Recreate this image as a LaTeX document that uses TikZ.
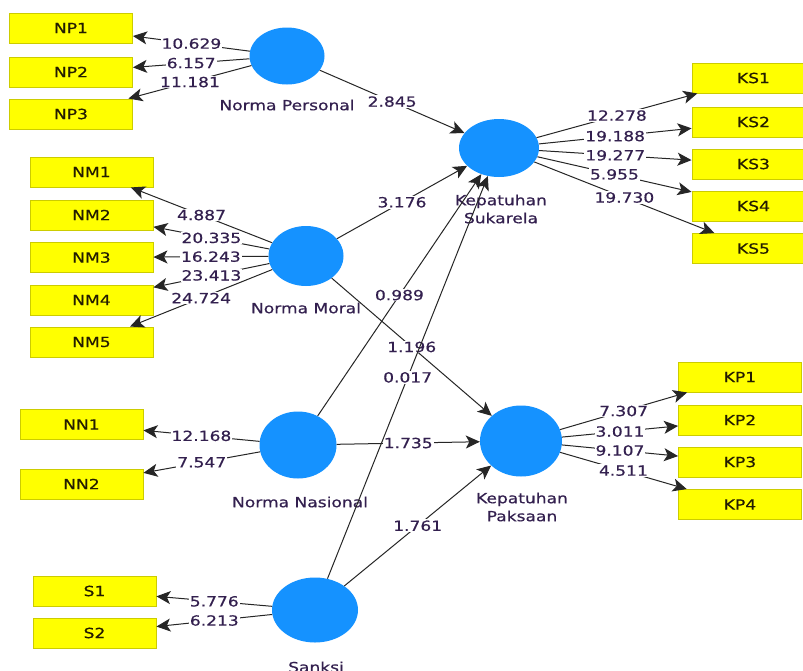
\documentclass[tikz,border=0pt]{standalone}
\usepackage{fontspec}
\setmainfont{DejaVu Sans}[FakeStretch=1.22,FakeBold=0.5]
\usetikzlibrary{shapes.geometric,arrows.meta}
\definecolor{lvblue}{HTML}{1592FF}
\definecolor{boxy}{HTML}{FFFF00}
\definecolor{boxline}{HTML}{CCCC00}
\definecolor{txtp}{HTML}{33204F}
\definecolor{boxtxt}{HTML}{231C00}
\definecolor{edgec}{HTML}{262626}
\begin{document}
\begin{tikzpicture}[x=1pt,y=-1pt,
  lv/.style={ellipse, fill=lvblue, inner sep=0pt},
  ind/.style={rectangle, fill=boxy, draw=boxline, line width=0.9pt, minimum width=123pt, minimum height=30pt, inner sep=0pt, font=\fontsize{14}{16}\selectfont, text=boxtxt},
  lvname/.style={font=\fontsize{14}{18}\selectfont, text=txtp, align=center, inner sep=0pt},
  val/.style={fill=white, inner sep=1pt, font=\fontsize{14}{16}\selectfont, text=txtp},
  arr/.style={draw=edgec, line width=1pt, -{Stealth[length=14pt,width=13pt,inset=3.5pt]}}
]
\clip (0,0) rectangle (803,670);
\fill[white] (0,0) rectangle (803,670);

% latent variables
\node[lv, minimum width=75pt, minimum height=57pt] (NP) at (287,56) {};
\node[lv, minimum width=75pt, minimum height=60pt] (NM) at (306,256) {};
\node[lv, minimum width=80pt, minimum height=58pt] (KS) at (499,148) {};
\node[lv, minimum width=82pt, minimum height=71pt] (KP) at (521,441) {};
\node[lv, minimum width=77pt, minimum height=67pt] (NN) at (298,445) {};
\node[lv, minimum width=86pt, minimum height=65pt] (S) at (315,610) {};

% latent names
\node[lvname] (NPn) at (287,105) {Norma Personal};
\node[lvname] (NMn) at (306,308) {Norma Moral};
\node[lvname] (KSn) at (501,209) {Kepatuhan\\Sukarela};
\node[lvname] (KPn) at (522,507) {Kepatuhan\\Paksaan};
\node[lvname] (NNn) at (300,502) {Norma Nasional};
\node[lvname] (Sn) at (316,667) {Sanksi};

% indicators
\node[ind] (NP1) at (71,28) {NP1};
\node[ind] (NP2) at (71,72) {NP2};
\node[ind] (NP3) at (71,114) {NP3};

\node[ind] (NM1) at (91.5,172) {NM1};
\node[ind] (NM2) at (91.5,215) {NM2};
\node[ind] (NM3) at (91.5,257.5) {NM3};
\node[ind] (NM4) at (91.5,300) {NM4};
\node[ind] (NM5) at (91.5,342) {NM5};

\node[ind] (KS1) at (753.5,78) {KS1};
\node[ind] (KS2) at (753.5,122) {KS2};
\node[ind] (KS3) at (753.5,164) {KS3};
\node[ind] (KS4) at (753.5,206) {KS4};
\node[ind] (KS5) at (753.5,248.5) {KS5};

\node[ind] (KP1) at (740,377) {KP1};
\node[ind] (KP2) at (740,420) {KP2};
\node[ind] (KP3) at (740,462) {KP3};
\node[ind] (KP4) at (740,504.5) {KP4};

\node[ind] (NN1) at (81.5,424.5) {NN1};
\node[ind] (NN2) at (81.5,484) {NN2};

\node[ind] (S1) at (94.5,591) {S1};
\node[ind] (S2) at (94.5,633) {S2};

% outer loadings
\draw[arr] (NP) -- (NP1) node[val, midway] {10.629};
\draw[arr] (NP) -- (NP2) node[val, midway] {6.157};
\draw[arr] (NP) -- (NP3) node[val, midway] {11.181};

\draw[arr] (NM) -- (NM1) node[val, midway] {4.887};
\draw[arr] (NM) -- (NM2) node[val, midway] {20.335};
\draw[arr] (NM) -- (NM3) node[val, midway] {16.243};
\draw[arr] (NM) -- (NM4) node[val, midway] {23.413};
\draw[arr] (NM) -- (NM5) node[val, midway] {24.724};

\draw[arr] (KS) -- (KS1) node[val, midway] {12.278};
\draw[arr] (KS) -- (KS2) node[val, midway] {19.188};
\draw[arr] (KS) -- (KS3) node[val, midway] {19.277};
\draw[arr] (KS) -- (KS4) node[val, midway] {5.955};
\draw[arr] (KS) -- (KS5) node[val, midway] {19.730};

\draw[arr] (KP) -- (KP1) node[val, midway] {7.307};
\draw[arr] (KP) -- (KP2) node[val, midway] {3.011};
\draw[arr] (KP) -- (KP3) node[val, midway] {9.107};
\draw[arr] (KP) -- (KP4) node[val, midway] {4.511};

\draw[arr] (NN) -- (NN1) node[val, midway] {12.168};
\draw[arr] (NN) -- (NN2) node[val, midway] {7.547};

\draw[arr] (S) -- (S1) node[val, midway] {5.776};
\draw[arr] (S) -- (S2) node[val, midway] {6.213};

% inner paths
\draw[arr] (NP) -- (KS) node[val, midway] {2.845};
\draw[arr] (NM) -- (KS) node[val, midway] {3.176};
\draw[arr] (NM) -- (KP) node[val, midway] {1.196};
\draw[arr] (NN) -- (KS) node[val, midway] {0.989};
\draw[arr] (NN) -- (KP) node[val, midway] {1.735};
\draw[arr] (S) -- (KS) node[val, midway] {0.017};
\draw[arr] (S) -- (KP) node[val, midway] {1.761};
\end{tikzpicture}
\end{document}
